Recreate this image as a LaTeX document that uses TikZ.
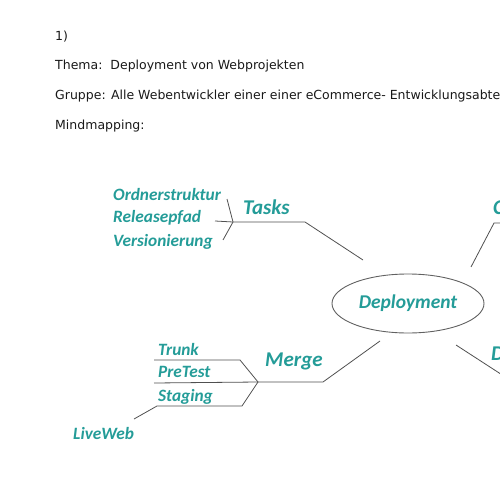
\documentclass[tikz,border=0pt]{standalone}
\usepackage{fontspec}
\setmainfont{DejaVu Sans}
\newfontfamily\mapfont{Carlito}
\usetikzlibrary{shapes.geometric}
\definecolor{teal1}{RGB}{36,156,152}
\definecolor{line1}{RGB}{80,80,80}
\begin{document}
\begin{tikzpicture}[x=1pt,y=-1pt,
  hdr/.style={anchor=west,inner sep=0pt,text=black!90,font=\fontsize{12.5}{14}\selectfont},
  leaf/.style={anchor=west,inner sep=0pt,text=teal1,font=\mapfont\bfseries\itshape\fontsize{17.3}{19}\selectfont},
  branch/.style={anchor=west,inner sep=0pt,text=teal1,font=\mapfont\bfseries\itshape\fontsize{21}{24}\selectfont},
  conn/.style={draw=line1,line width=0.8pt}]
\useasboundingbox (0,0) rectangle (500,500);
\clip (0,0) rectangle (500,500);
% header
\node[hdr] (h1) at (55,37) {1)};
\node[hdr] (h2) at (55,66) {Thema:\ \ Deployment von Webprojekten};
\node[hdr] (h3) at (55,96) {Gruppe: Alle Webentwickler einer einer eCommerce- Entwicklungsabteilung};
\node[hdr] (h4) at (55,126) {Mindmapping:};
% center
\node[draw=line1!90,line width=0.9pt,ellipse,minimum width=152pt,minimum height=59pt,inner sep=0pt] (dep) at (408,303.5) {};
\node[text=teal1,font=\mapfont\bfseries\itshape\fontsize{19.5}{22}\selectfont,inner sep=0pt] (deptxt) at (408,303) {Deployment};
% Tasks
\node[branch] (tasks) at (243,207) {Tasks};
\node[leaf] (o1) at (113,194) {Ordnerstruktur};
\node[leaf] (o2) at (113,218) {Releasepfad};
\node[leaf] (o3) at (113,242) {Versionierung};
\coordinate (tj) at (233,222);
\coordinate (tk) at (305,222);
\coordinate (tend) at (363,260);
\coordinate (o1e) at (227,199);
\coordinate (o2e) at (215,221);
\coordinate (o3e) at (223,240);
\draw[conn] (tend) -- (tk) -- (tj);
\draw[conn] (o1e) -- (tj) -- (o3e);
\draw[conn] (o2e) -- (tj);
% top right
\node[branch] (cright) at (493,207) {Commit};
\coordinate (cs) at (471,267);
\coordinate (ck) at (494,223);
\coordinate (ce) at (505,223);
\draw[conn] (cs) -- (ck) -- (ce);
% bottom right
\node[branch] (dright) at (491,353) {Dokumentation};
\coordinate (ds) at (456,345);
\coordinate (de) at (510,380);
\draw[conn] (ds) -- (de);
% Merge
\node[branch] (merge) at (265,361) {Merge};
\node[leaf] (m1) at (158,349) {Trunk};
\node[leaf] (m2) at (158,372) {PreTest};
\node[leaf] (m3) at (158,397) {Staging};
\node[leaf] (m4) at (73,433) {LiveWeb};
\coordinate (ms) at (380,341);
\coordinate (mk) at (323,382);
\coordinate (mj) at (258,382);
\coordinate (m1k) at (240,360);
\coordinate (m1e) at (154,360);
\coordinate (m2e) at (154,383);
\coordinate (m3k) at (242,406);
\coordinate (m3e) at (157,406);
\coordinate (m4e) at (134,419);
\draw[conn] (ms) -- (mk) -- (mj);
\draw[conn] (mj) -- (m1k) -- (m1e);
\draw[conn] (mj) -- (m2e);
\draw[conn] (mj) -- (m3k) -- (m3e) -- (m4e);
\end{tikzpicture}
\end{document}
